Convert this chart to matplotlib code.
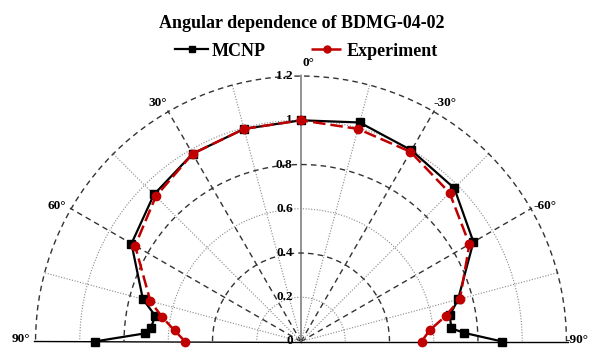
import numpy as np
import matplotlib
matplotlib.use('Agg')
import matplotlib.pyplot as plt
from matplotlib.lines import Line2D
from matplotlib.font_manager import FontProperties

# ---------------- data ----------------
mcnp_angles = [-90, -87, -85, -80, -75, -60, -45, -30, -15, 0, 15, 30, 45, 60, 75, 80, 85, 87, 90]
mcnp_values = [0.909, 0.74, 0.682, 0.683, 0.735, 0.90, 0.98, 0.998, 1.025, 1.0,
               0.995, 0.98, 0.94, 0.885, 0.74, 0.669, 0.682, 0.705, 0.933]
exp_angles = [-90, -85, -80, -75, -60, -45, -30, -15, 0, 15, 30, 45, 60, 75, 80, 85, 90]
exp_values = [0.545, 0.584, 0.664, 0.744, 0.879, 0.95, 0.99, 0.995, 1.0,
              0.995, 0.98, 0.928, 0.866, 0.705, 0.638, 0.574, 0.524]

r_major = [0.4, 0.8, 1.2]
r_minor = [0.2, 0.6, 1.0]
r_tick_values = [0, 0.2, 0.4, 0.6, 0.8, 1.0, 1.2]
r_tick_labels = ['0', '0.2', '0.4', '0.6', '0.8', '1', '1.2']
theta_major = [-60, -30, 30, 60]
theta_minor = [-75, -45, -15, 15, 45, 75]
angle_label_values = [-90, -60, -30, 0, 30, 60, 90]
angle_labels = ['-90°', '-60°', '-30°', '0°', '30°', '60°', '90°']
title = 'Angular dependence of BDMG-04-02'
series_names = ['MCNP', 'Experiment']

# ---------------- figure ----------------
W, H = 590, 350
fig = plt.figure(figsize=(W / 100, H / 100), dpi=100)
cx, base, R = 301, 341.5, 267
# polar wedge bbox is padded to a square, centred on the half disc
ax = fig.add_axes([(cx - R) / W, (H - (base + R / 2)) / H, 2 * R / W, 2 * R / H],
                  projection='polar')
ax.set_theta_zero_location('N')
ax.set_theta_direction(1)
ax.set_thetamin(-90)
ax.set_thetamax(90)
ax.set_ylim(0, 1.207)

ax.set_xticks(np.radians(theta_major))
ax.set_xticks(np.radians(theta_minor), minor=True)
ax.set_yticks(r_major)
ax.set_yticks(r_minor, minor=True)
ax.set_xticklabels([])
ax.set_yticklabels([])
ax.set_xticklabels([], minor=True)
ax.set_yticklabels([], minor=True)
ax.tick_params(which='both', length=0)

dash_major = (0, (4, 3))
ax.xaxis.grid(True, which='major', ls=dash_major, color='#333333', lw=1.0)
ax.yaxis.grid(True, which='major', ls=dash_major, color='#333333', lw=1.0)
ax.xaxis.grid(True, which='minor', ls=(0, (1, 1.5)), color='#888888', lw=0.8)
ax.yaxis.grid(True, which='minor', ls=(0, (1, 1.5)), color='#888888', lw=0.8)

ax.spines['polar'].set_visible(False)
ax.spines['inner'].set_visible(False)
for s in ('start', 'end'):
    ax.spines[s].set_color('black')
    ax.spines[s].set_linewidth(1.0)
ax.axvline(0, color='#808080', lw=1.2, zorder=1)

# data
ax.plot(np.radians(mcnp_angles), mcnp_values, color='black', lw=1.6,
        marker='s', ms=6, mfc='black', mec='black', zorder=3, clip_on=False)
ax.plot(np.radians(exp_angles), exp_values, color='#C00000', lw=1.8,
        ls=(0, (5, 2)), marker='o', ms=6, mfc='#C00000', mec='#C00000',
        zorder=4, clip_on=False)

# labels
lab_font = dict(family='Liberation Serif', weight='bold', size=9.5, color='black')
for v, t in zip(r_tick_values, r_tick_labels):
    ax.annotate(t, xy=(0, v), xytext=(-6, 0), textcoords='offset points',
                ha='right', va='center', annotation_clip=False, **lab_font)

for a, t in zip(angle_label_values, angle_labels):
    if a == 0:
        ax.text(np.radians(-1.5), 1.26, t, ha='center', va='center', **lab_font)
    elif a == 90:
        ax.annotate(t, xy=(np.radians(a), 1.2), xytext=(-4, 1.5),
                    textcoords='offset points', ha='right', va='center',
                    annotation_clip=False, **lab_font)
    elif a == -90:
        fig.text(588 / W, (H - 340) / H, t, ha='right', va='center', **lab_font)
    else:
        th = a + np.sign(a) * 1.0
        ax.text(np.radians(th), 1.26, t, ha='center', va='center', **lab_font)

fp = FontProperties(family='Liberation Serif', weight='bold', size=13)
fig.text(0.511, 1 - 23 / H, title, ha='center', va='center', fontproperties=fp)

handles = [
    Line2D([], [], color='black', lw=1.6, marker='s', ms=5),
    Line2D([], [], color='#C00000', lw=1.8, ls=(0, (5, 2)), marker='o', ms=5),
]
fig.legend(handles, series_names, loc='center', bbox_to_anchor=(0.52, 1 - 51 / H),
           ncol=2, frameon=False, prop=fp, handlelength=1.8, handletextpad=0.2,
           columnspacing=2.5, borderpad=0)

fig.savefig('out.png', dpi=100)
